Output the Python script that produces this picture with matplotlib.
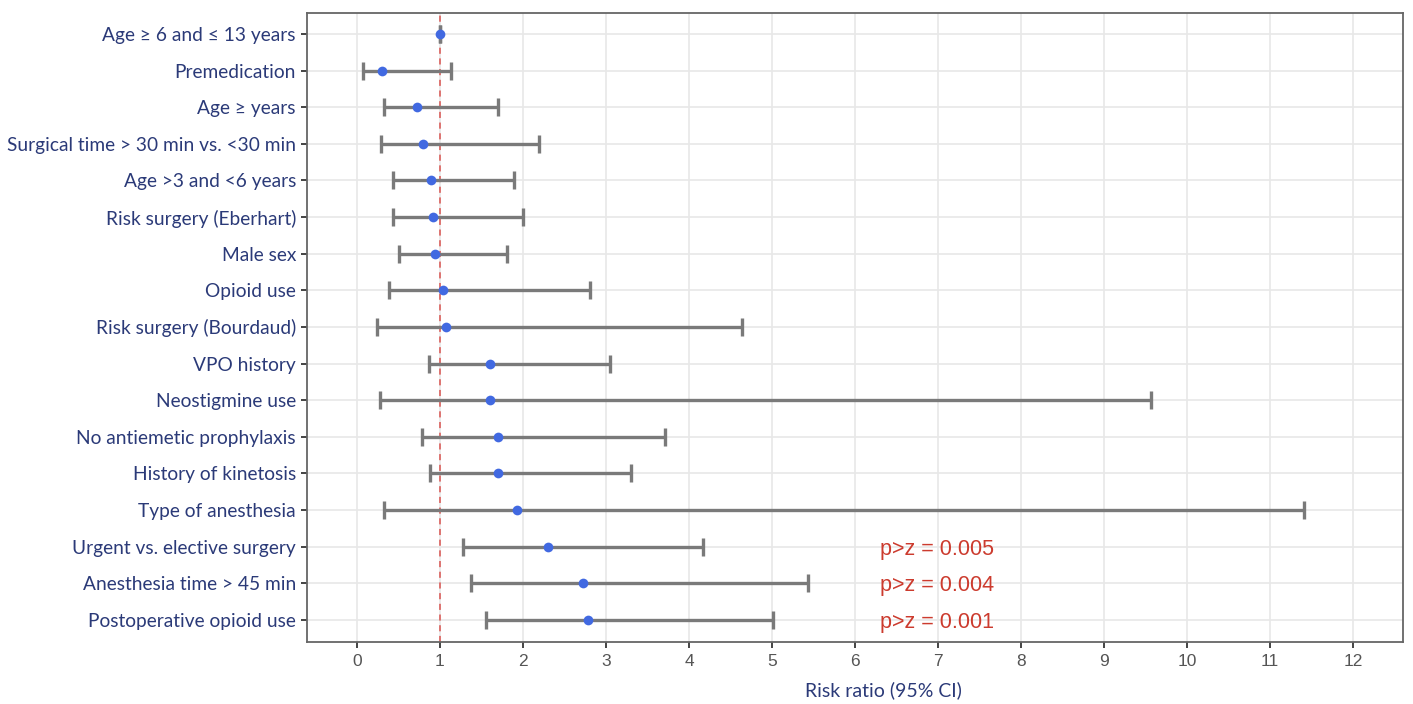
import matplotlib
matplotlib.use("Agg")
import matplotlib.pyplot as plt
import numpy as np

labels = [
    "Age \u2265 6 and \u2264 13 years",
    "Premedication",
    "Age \u2265 years",
    "Surgical time > 30 min vs. <30 min",
    "Age >3 and <6 years",
    "Risk surgery (Eberhart)",
    "Male sex",
    "Opioid use",
    "Risk surgery (Bourdaud)",
    "VPO history",
    "Neostigmine use",
    "No antiemetic prophylaxis",
    "History of kinetosis",
    "Type of anesthesia",
    "Urgent vs. elective surgery",
    "Anesthesia time > 45 min",
    "Postoperative opioid use",
]
rr = [1.00, 0.30, 0.73, 0.80, 0.89, 0.92, 0.94, 1.04, 1.07, 1.61, 1.61, 1.70, 1.70, 1.93, 2.30, 2.73, 2.79]
ci_low = [1.00, 0.07, 0.33, 0.29, 0.43, 0.43, 0.51, 0.39, 0.24, 0.87, 0.28, 0.78, 0.88, 0.33, 1.28, 1.38, 1.55]
ci_high = [1.00, 1.14, 1.70, 2.19, 1.89, 2.00, 1.81, 2.81, 4.64, 3.05, 9.57, 3.71, 3.30, 11.41, 4.17, 5.43, 5.01]
pvals = {"Urgent vs. elective surgery": "p>z = 0.005",
         "Anesthesia time > 45 min": "p>z = 0.004",
         "Postoperative opioid use": "p>z = 0.001"}
xticks = list(range(0, 13))

navy = "#2b3a78"
fig = plt.figure(figsize=(14.13, 7.04), dpi=100)
ax = fig.add_axes([307/1413, 1-642/704, (1403-307)/1413, (642-13)/704])

n = len(labels)
ypos = np.arange(n)[::-1]
rr_a = np.array(rr); lo = np.array(ci_low); hi = np.array(ci_high)

ax.set_xlim(-0.6, 12.6)
ax.set_ylim(-0.6, n - 1 + 0.57)
ax.set_xticks(xticks)
ax.set_yticks(ypos)
ax.grid(True, color="#e8e8e8", linewidth=1.2, zorder=0)
ax.set_axisbelow(True)

ax.axvline(1, color="#d9534f", linestyle=(0, (4, 3)), linewidth=1.1, zorder=1)

ax.errorbar(rr_a, ypos, xerr=[rr_a - lo, hi - rr_a], fmt="none",
            ecolor="#7a7a7a", elinewidth=2.4, capsize=6.5, capthick=2.4, zorder=2)
ax.plot(rr_a, ypos, "o", color="#4169e1", markersize=7, zorder=3, markeredgewidth=0)

for lab, y in zip(labels, ypos):
    if lab in pvals:
        ax.text(6.3, y - 0.07, pvals[lab], color="#cc3b2e", fontsize=15.5,
                family="Liberation Sans", va="center", ha="left")

ax.set_yticklabels(labels, fontsize=13.8, color=navy, family="Lato")
ax.set_xticklabels([str(t) for t in xticks], fontsize=12.5, color="#555555", family="Liberation Sans")
ax.tick_params(axis="both", length=4, width=1.4, color="#444444")
ax.tick_params(axis="y", pad=4)
ax.tick_params(axis="x", pad=5)
for s in ax.spines.values():
    s.set_color("#666666")
    s.set_linewidth(1.3)
ax.text(0.526, -0.076, "Risk ratio (95% CI)", transform=ax.transAxes,
        fontsize=14, color=navy, family="Lato", ha="center", va="center")

fig.savefig("out.png", dpi=100)
